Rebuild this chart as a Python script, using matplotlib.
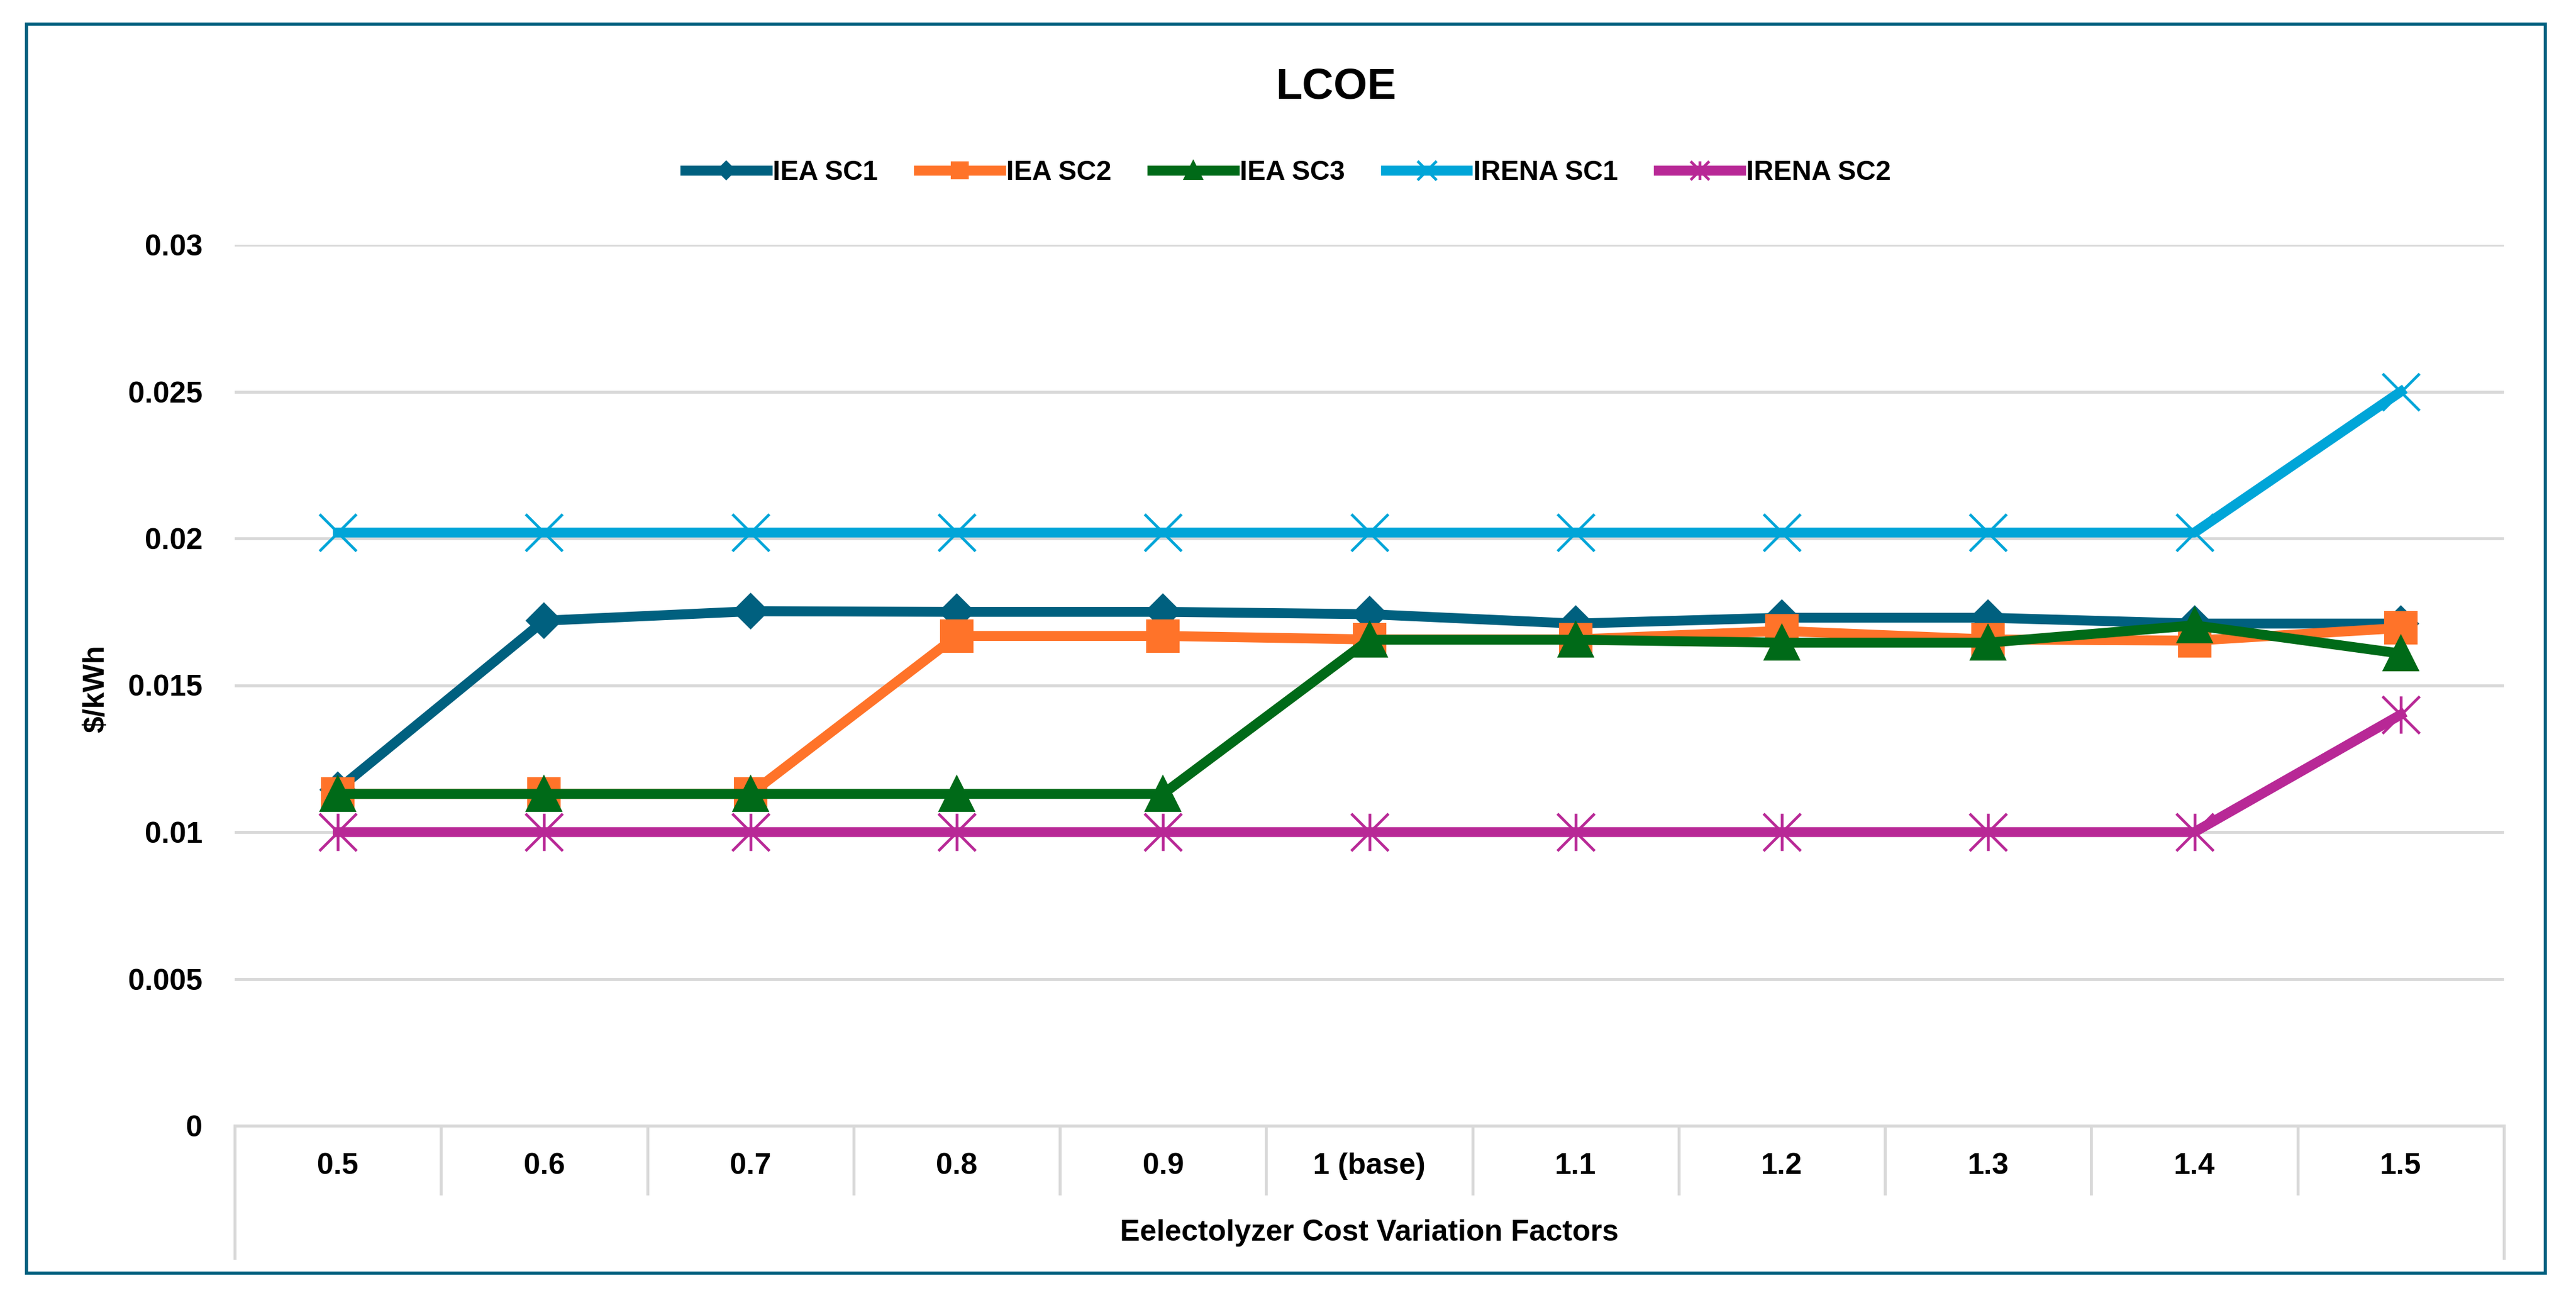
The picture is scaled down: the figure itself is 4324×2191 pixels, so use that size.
import numpy as np
import matplotlib
matplotlib.use('Agg')
import matplotlib.pyplot as plt
import matplotlib.transforms as mtransforms
from matplotlib.path import Path
from matplotlib.patches import Rectangle

plt.rcParams['font.family'] = ['Liberation Sans', 'DejaVu Sans']
plt.rcParams['font.weight'] = 'bold'

## Data ##
factors = ['0.5', '0.6', '0.7', '0.8', '0.9', '1 (base)', '1.1', '1.2', '1.3', '1.4', '1.5']
iea_sc1 = [0.01145, 0.0172, 0.01752, 0.0175, 0.0175, 0.01742, 0.0171, 0.0173, 0.0173, 0.0171, 0.0171]
iea_sc2 = [0.0113, 0.0113, 0.0113, 0.01668, 0.01668, 0.01656, 0.01656, 0.01685, 0.01656, 0.01652, 0.01695]
iea_sc3 = [0.0113, 0.0113, 0.0113, 0.0113, 0.0113, 0.01655, 0.01655, 0.01645, 0.01645, 0.01704, 0.01608]
irena_sc1 = [0.0202, 0.0202, 0.0202, 0.0202, 0.0202, 0.0202, 0.0202, 0.0202, 0.0202, 0.0202, 0.025]
irena_sc2 = [0.01, 0.01, 0.01, 0.01, 0.01, 0.01, 0.01, 0.01, 0.01, 0.01, 0.0140]

yticks = [0, 0.005, 0.01, 0.015, 0.02, 0.025, 0.03]
ytick_labels = ['0', '0.005', '0.01', '0.015', '0.02', '0.025', '0.03']

W, H = 4324, 2191
grid_col = '#D9D9D9'
border_col = '#00607F'

# excel style star marker (x with a vertical bar)
star = Path([(-1, -1), (1, 1), (-1, 1), (1, -1), (0, -1), (0, 1)],
            [Path.MOVETO, Path.LINETO, Path.MOVETO, Path.LINETO, Path.MOVETO, Path.LINETO])

fig = plt.figure(figsize=(W / 300, H / 300), dpi=300)
ax = fig.add_axes([394 / W, 1 - 1890 / H, (4203 - 394) / W, (1890 - 411) / H])

x = np.arange(len(factors))
lw = 4
ax.plot(x, iea_sc1, color='#00607F', lw=lw, marker='D', ms=9.5, label='IEA SC1')
ax.plot(x, iea_sc2, color='#FF7329', lw=lw, marker='s', ms=12.5, label='IEA SC2')
ax.plot(x, iea_sc3, color='#006A18', lw=lw, marker='^', ms=13.5, label='IEA SC3')
ax.plot(x, irena_sc1, color='#00A5D8', lw=lw, marker='x', ms=15, mew=1.1, label='IRENA SC1')
ax.plot(x, irena_sc2, color='#B82896', lw=lw, marker=star, ms=15, mew=1.1,
        mfc='none', label='IRENA SC2')

ax.set_xlim(-0.5, len(factors) - 0.5)
ax.set_ylim(0, 0.03)
ax.set_yticks(yticks)
ax.set_yticklabels(ytick_labels)
ax.tick_params(axis='y', length=0, pad=13, labelsize=12)
ax.set_xticks([])
ax.grid(axis='y', color=grid_col, lw=1.2)
ax.set_axisbelow(True)
for s in ['top', 'right', 'left']:
    ax.spines[s].set_visible(False)
ax.spines['bottom'].set_color(grid_col)
ax.spines['bottom'].set_linewidth(1.2)

# multi level category axis look
trans = mtransforms.blended_transform_factory(ax.transData, ax.transAxes)
for b in np.arange(-0.5, len(factors), 1):
    low = -0.150 if b in (-0.5, len(factors) - 0.5) else -0.0771
    ax.plot([b, b], [0, low], transform=trans, clip_on=False, color=grid_col, lw=1.2)
for i, lab in enumerate(factors):
    ax.text(i, -0.046, lab, transform=trans, ha='center', va='center', fontsize=12)
ax.text(0.5, -0.1217, 'Eelectolyzer Cost Variation Factors', transform=ax.transAxes,
        ha='center', va='center', fontsize=12)

fig.text(161 / W, 1 - 1156 / H, '$/kWh', rotation=90, ha='center', va='center', fontsize=12)
fig.text(2242 / W, 1 - 146 / H, 'LCOE', ha='center', va='center', fontsize=17.5)

fig.legend(loc='center', bbox_to_anchor=(0.5, 1 - 290 / H), ncol=5, frameon=False,
           fontsize=11, handlelength=3.0, handletextpad=0.2, columnspacing=1.5,
           markerscale=0.5)

fig.patches.append(Rectangle((44 / W, 1 - 2137 / H), (4272 - 44) / W, (2137 - 40) / H,
                             transform=fig.transFigure, fill=False, edgecolor=border_col, lw=1.3))

fig.savefig('out.png', dpi=300)
